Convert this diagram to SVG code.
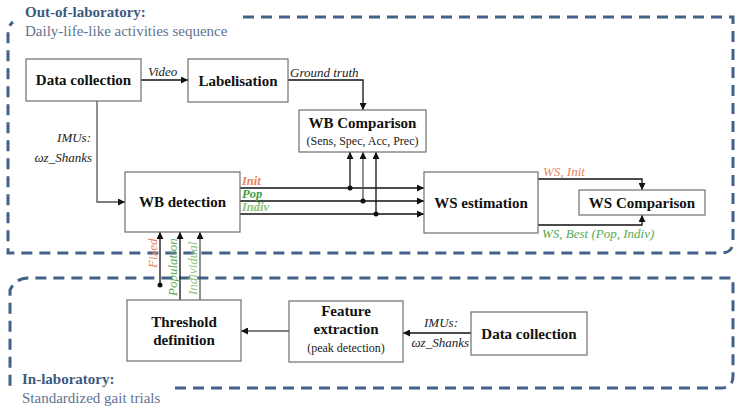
<svg xmlns="http://www.w3.org/2000/svg" width="742" height="414" viewBox="0 0 742 414" font-family="'Liberation Serif', 'DejaVu Serif', serif">
<style>
.box{fill:#fff;stroke:#6e6e6e;stroke-width:1.2}
.t{font-weight:bold;font-size:15px;fill:#111;text-anchor:middle}
.s{font-size:12px;fill:#222;text-anchor:middle}
.i{font-style:italic;font-size:13px;fill:#222}
.bi{font-style:italic;font-weight:bold;font-size:12.5px}
.dash{fill:none;stroke:#44618a;stroke-width:3;stroke-dasharray:11 7}
.c{fill:none;stroke:#111;stroke-width:1.3}
.g{fill:none;stroke:#555;stroke-width:1.3}
.ttl{font-size:15px}
.or{fill:#e8845c}.gr{fill:#3a9e48}.lg{fill:#8dc37b}.mg{fill:#55aa55}
</style>
<defs>
<marker id="ah" viewBox="0 0 10 10" refX="10" refY="5" markerWidth="7" markerHeight="7" markerUnits="userSpaceOnUse" orient="auto">
<path d="M0,0 L10,5 L0,10 z" fill="#111"/>
</marker>
</defs>

<g id="regions">
<path class="dash" d="M243,17 H733 V241 Q733,253 721,253 H8 V32 Q8,26 13,22"/>
<path class="dash" d="M175,388 H721 Q733,388 733,376 V278 H28 Q16,278 10,290 V388 H14"/>
<text class="ttl" x="25" y="17" font-weight="bold" fill="#3d5a80">Out-of-laboratory:</text>
<text class="ttl" x="25" y="36" fill="#5f7391">Daily-life-like activities sequence</text>
<text class="ttl" x="22" y="384" font-weight="bold" fill="#3d5a80">In-laboratory:</text>
<text class="ttl" x="22" y="403" fill="#5f7391">Standardized gait trials</text>
</g>

<g id="connectors">
<path class="c" d="M141,80 H188" marker-end="url(#ah)"/>
<path class="c" d="M288,80 H363 V110" marker-end="url(#ah)"/>
<path class="g" d="M97,101 V202 H125" marker-end="url(#ah)"/>
<path class="c" d="M240,188 H424" marker-end="url(#ah)"/>
<path class="c" d="M240,201 H424" marker-end="url(#ah)"/>
<path class="c" d="M240,214 H424" marker-end="url(#ah)"/>
<path class="c" d="M350,188 V152" marker-end="url(#ah)"/>
<path class="g" d="M363,201 V152" marker-end="url(#ah)"/>
<path class="c" d="M376,214 V152" marker-end="url(#ah)"/>
<circle cx="350" cy="188" r="2.5" fill="#111"/>
<circle cx="363" cy="201" r="2.5" fill="#111"/>
<circle cx="376" cy="214" r="2.5" fill="#111"/>
<path class="c" d="M538,179 H642 V190" marker-end="url(#ah)"/>
<path class="c" d="M538,225 H642 V215" marker-end="url(#ah)"/>
<path class="c" d="M160,285 V232" marker-end="url(#ah)"/>
<circle cx="160" cy="285" r="2.5" fill="#111"/>
<path class="c" d="M180,300 V232" marker-end="url(#ah)"/>
<path class="g" d="M200,300 V232" marker-end="url(#ah)"/>
<path class="g" d="M289,331 H241" marker-end="url(#ah)"/>
<path class="c" d="M471,333 H403" marker-end="url(#ah)"/>

<text class="i" x="148" y="76">Video</text>
<text class="i" x="290" y="77">Ground truth</text>
<text class="i" x="91" y="142" text-anchor="end">IMUs:</text>
<text class="i" x="92" y="162" text-anchor="end">ωz_Shanks</text>
<text class="bi or" x="242" y="185">Init</text>
<text class="bi gr" x="242" y="198">Pop</text>
<text class="bi lg" x="242" y="211">Indiv</text>
<text class="i or" x="543" y="176">WS, Init</text>
<text class="i mg" x="542" y="238">WS, Best (Pop, Indiv)</text>
<text class="i or" x="157" y="268" transform="rotate(-90 157 268)">Fixed</text>
<text class="i mg" x="177" y="296" transform="rotate(-90 177 296)">Population</text>
<text class="i lg" x="197" y="295" transform="rotate(-90 197 295)">Individual</text>
<text class="i" x="441" y="327" text-anchor="middle">IMUs:</text>
<text class="i" x="469" y="347" text-anchor="end">ωz_Shanks</text>
</g>

<g id="data-collection-out">
<rect class="box" x="26" y="59" width="115" height="42"/>
<text class="t" x="83.5" y="85">Data collection</text>
</g>
<g id="labelisation">
<rect class="box" x="188" y="59" width="100" height="43"/>
<text class="t" x="238" y="86">Labelisation</text>
</g>
<g id="wb-comparison">
<rect class="box" x="299" y="110" width="127" height="42"/>
<text class="t" x="362.5" y="128" font-size="14">WB Comparison</text>
<text class="s" x="362.5" y="145">(Sens, Spec, Acc, Prec)</text>
</g>
<g id="wb-detection">
<rect class="box" x="125" y="172" width="115" height="60"/>
<text class="t" x="182.5" y="207">WB detection</text>
</g>
<g id="ws-estimation">
<rect class="box" x="424" y="172" width="114" height="61"/>
<text class="t" x="481" y="208">WS estimation</text>
</g>
<g id="ws-comparison">
<rect class="box" x="579" y="190" width="126" height="25"/>
<text class="t" x="642" y="208">WS Comparison</text>
</g>
<g id="threshold-definition">
<rect class="box" x="127" y="300" width="114" height="61"/>
<text class="t" x="184" y="327">Threshold</text>
<text class="t" x="184" y="345">definition</text>
</g>
<g id="feature-extraction">
<rect class="box" x="289" y="301" width="114" height="61"/>
<text class="t" x="346" y="316">Feature</text>
<text class="t" x="346" y="334">extraction</text>
<text class="s" x="346" y="352">(peak detection)</text>
</g>
<g id="data-collection-in">
<rect class="box" x="471" y="312" width="116" height="43"/>
<text class="t" x="529" y="339">Data collection</text>
</g>
</svg>
